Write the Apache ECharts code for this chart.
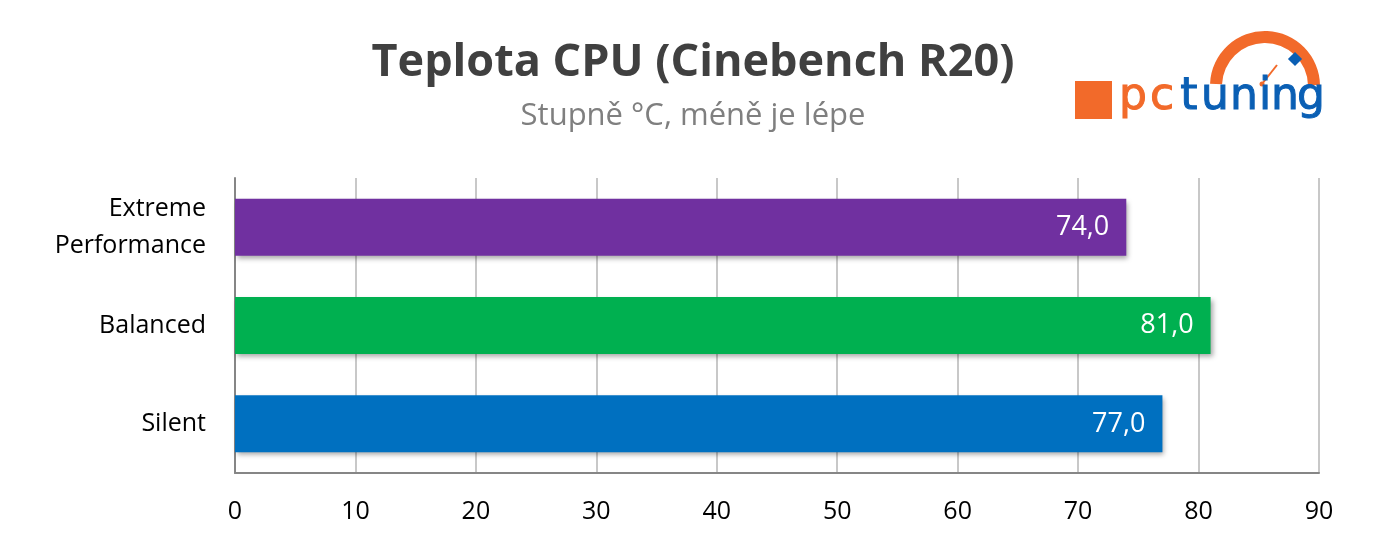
<!DOCTYPE html>
<html>
<head>
<meta charset="utf-8">
<script src="https://cdn.jsdelivr.net/npm/echarts@6/dist/echarts.min.js"></script>
<style>
html, body { margin: 0; padding: 0; background: #fff; }
#chart { width: 1379px; height: 541px; }
</style>
</head>
<body>
<div id="chart"></div>
<script>
// kategorie odspodu nahoru
const categories = ['Silent', 'Balanced', 'Extreme\nPerformance']
const values = [77.0, 81.0, 74.0]
const barColors = ['#0070c0', '#00b050', '#7030a0']
const xTicks = { min: 0, max: 90, interval: 10 }

const FONT = '"Open Sans", "Noto Sans", sans-serif'
const ORANGE = '#f26a2a'
const BLUE = '#0a5fb4'

// pismena loga a jejich stred
const logoLetters = [
    ['p', 1133, ORANGE], ['c', 1162, ORANGE], ['t', 1189, BLUE], ['u', 1215, BLUE],
    ['n', 1244, BLUE], ['i', 1265, BLUE], ['n', 1285, BLUE], ['g', 1311, BLUE]
]

const chart = echarts.init(document.getElementById('chart'))

const logo = [
    { type: 'rect', shape: { x: 1075, y: 81, width: 37, height: 38 }, style: { fill: ORANGE } },
    {
        type: 'sector',
        shape: { cx: 1265, cy: 86, r0: 43, r: 55, startAngle: -3.1, endAngle: -0.02, clockwise: true },
        style: { fill: ORANGE }
    },
    { type: 'rect', x: 1295, y: 59, rotation: Math.PI / 4, shape: { x: -5, y: -5, width: 10, height: 10 }, style: { fill: BLUE } },
    { type: 'line', shape: { x1: 1262, y1: 84, x2: 1277, y2: 65 }, style: { stroke: ORANGE, lineWidth: 2 } },
    { type: 'circle', shape: { cx: 1262, cy: 84, r: 2.5 }, style: { fill: ORANGE } }
]
logoLetters.forEach(l => {
    logo.push({
        type: 'text', x: l[1], y: 76,
        style: {
            text: l[0], fontFamily: '"DejaVu Sans", sans-serif', fontSize: 44,
            fill: l[2], stroke: l[2], lineWidth: 1, align: 'center'
        }
    })
})

const option = {
    backgroundColor: '#fff',
    animation: false,
    title: {
        text: 'Teplota CPU (Cinebench R20)',
        subtext: 'Stupně °C, méně je lépe',
        left: 688,
        textAlign: 'center',
        top: 36,
        itemGap: 15,
        textStyle: { fontFamily: FONT, fontSize: 45, fontWeight: 'bold', color: '#404040' },
        subtextStyle: { fontFamily: FONT, fontSize: 31, color: '#7f7f7f' }
    },
    grid: { left: 235, right: 60, top: 178, bottom: 68 },
    xAxis: {
        type: 'value',
        min: xTicks.min,
        max: xTicks.max,
        interval: xTicks.interval,
        axisLine: { show: true, lineStyle: { color: '#868686', width: 2 } },
        axisTick: { show: false },
        splitLine: { show: true, lineStyle: { color: '#c8c8c8', width: 2 } },
        axisLabel: { fontFamily: FONT, fontSize: 25, color: '#000', margin: 26 }
    },
    yAxis: {
        type: 'category',
        data: categories,
        axisLine: { show: true, lineStyle: { color: '#868686', width: 2 } },
        axisTick: { show: false },
        axisLabel: { fontFamily: FONT, fontSize: 25, color: '#000', margin: 29, lineHeight: 37, align: 'right' }
    },
    series: [{
        type: 'bar',
        barWidth: '58%',
        data: values.map((v, i) => ({
            value: v,
            itemStyle: {
                color: barColors[i],
                shadowColor: 'rgba(0,0,0,0.35)',
                shadowBlur: 5,
                shadowOffsetX: 2,
                shadowOffsetY: 3
            }
        })),
        label: {
            show: true,
            position: 'insideRight',
            distance: 17,
            fontFamily: FONT,
            fontSize: 27,
            color: '#fff',
            formatter: p => p.value.toFixed(1).replace('.', ',')
        }
    }],
    graphic: logo
}

chart.setOption(option)
</script>
</body>
</html>
